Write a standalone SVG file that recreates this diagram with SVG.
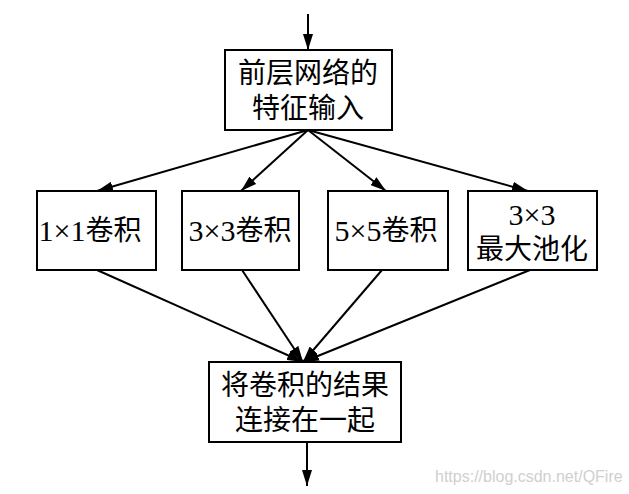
<svg xmlns="http://www.w3.org/2000/svg" width="629" height="494" viewBox="0 0 629 494">
<defs>
<style>
.box{fill:#fff;stroke:#000;stroke-width:2}
.t{font-family:"Liberation Serif","Noto Sans CJK SC",serif;font-size:28px;fill:#000;text-anchor:middle;dominant-baseline:central}
.n{font-size:30px}
.c{stroke:#000;stroke-width:2;fill:none;marker-end:url(#ah)}
.wm{font-family:"Liberation Sans","DejaVu Sans",sans-serif;font-size:16px;fill:#cfcfcf}
</style>
<marker id="ah" viewBox="0 0 16 10" refX="16" refY="5" markerWidth="16" markerHeight="10" markerUnits="userSpaceOnUse" orient="auto">
<path d="M0,0 L16,5 L0,10 Z" fill="#000"/>
</marker>
</defs>
<rect width="629" height="494" fill="#fff"/>
<g id="connectors">
<line class="c" x1="308" y1="14" x2="308" y2="50"/>
<line class="c" x1="308" y1="130" x2="97" y2="191"/>
<line class="c" x1="308" y1="130" x2="241" y2="191"/>
<line class="c" x1="308" y1="130" x2="386" y2="191"/>
<line class="c" x1="308" y1="130" x2="528" y2="191"/>
<line class="c" x1="97" y1="270" x2="303" y2="362"/>
<line class="c" x1="242" y1="270" x2="303" y2="362"/>
<line class="c" x1="382" y1="270" x2="303" y2="362"/>
<line class="c" x1="530" y1="270" x2="303" y2="362"/>
<line class="c" x1="307" y1="442" x2="307" y2="486"/>
</g>
<g id="input">
<rect class="box" x="225" y="50" width="167" height="80"/>
<text class="t" x="308" y="73">前层网络的</text>
<text class="t" x="308" y="108">特征输入</text>
</g>
<g id="conv1">
<rect class="box" x="37" y="191" width="119" height="79"/>
<text class="t" x="90" y="230"><tspan class="n">1×1</tspan>卷积</text>
</g>
<g id="conv3">
<rect class="box" x="182" y="191" width="117" height="79"/>
<text class="t" x="240" y="230"><tspan class="n">3×3</tspan>卷积</text>
</g>
<g id="conv5">
<rect class="box" x="328" y="191" width="120" height="79"/>
<text class="t" x="386" y="230"><tspan class="n">5×5</tspan>卷积</text>
</g>
<g id="pool">
<rect class="box" x="468" y="191" width="129" height="79"/>
<text class="t n" x="532" y="214">3×3</text>
<text class="t" x="532" y="249">最大池化</text>
</g>
<g id="concat">
<rect class="box" x="209" y="362" width="192" height="80"/>
<text class="t" x="305" y="385">将卷积的结果</text>
<text class="t" x="305" y="420">连接在一起</text>
</g>
<text class="wm" x="435" y="482">https://blog.csdn.net/QFire</text>
</svg>
